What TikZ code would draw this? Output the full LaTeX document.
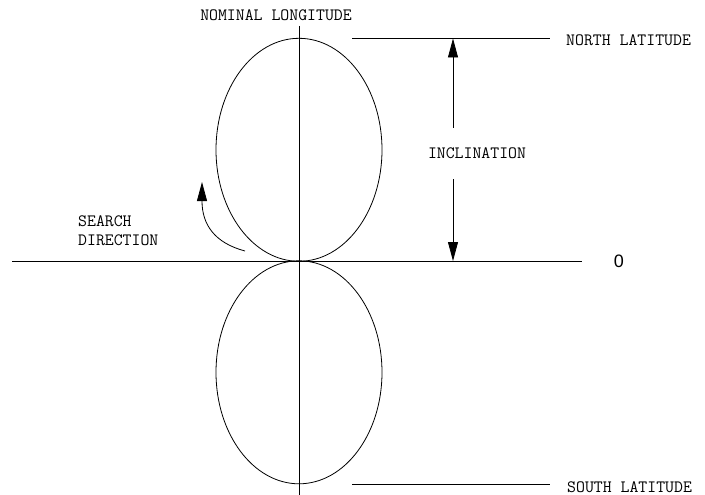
\documentclass[tikz,border=0pt]{standalone}
\usepackage{fontspec}
\setmainfont{Liberation Sans}
\usetikzlibrary{shapes.geometric,arrows.meta}
\begin{document}
\begin{tikzpicture}[x=1pt,y=-1pt,
  thinline/.style={line width=0.8pt},
  lobe/.style={ellipse,draw,line width=0.8pt,inner sep=0pt,minimum width=166pt,minimum height=223pt},
  lbl/.style={font=\ttfamily\fontsize{17.3}{19}\selectfont,inner sep=0pt,align=left},
  headarrow/.style={line width=0.8pt,-{Triangle[length=19pt,width=10pt]}}]
\useasboundingbox (0,0) rectangle (705,495);
% axes
\coordinate (vtop) at (299,26);
\coordinate (vbot) at (299,495);
\coordinate (hl) at (12,261);
\coordinate (hr) at (582,261);
\draw[thinline] (vtop) -- (vbot);
\draw[thinline] (hl) -- (hr);
% lobes
\node[lobe] (upper) at (299,149.8) {};
\node[lobe] (lower) at (299,372.3) {};
% latitude lines
\coordinate (nl) at (352,38.5);
\coordinate (nr) at (550,38.5);
\coordinate (sl) at (352,484);
\coordinate (sr) at (550,484);
\draw[thinline] (nl) -- (nr);
\draw[thinline] (sl) -- (sr);
% labels
\node[lbl] (nomlon) at (276,15) {NOMINAL LONGITUDE};
\node[lbl,anchor=west] (north) at (566,40) {NORTH LATITUDE};
\node[lbl,anchor=west] (south) at (567,487) {SOUTH LATITUDE};
\node[lbl] (incl) at (477,153) {INCLINATION};
\node[lbl,anchor=west] (search) at (78,230.5) {SEARCH\\DIRECTION};
\node[font=\fontsize{18}{20}\selectfont,inner sep=0pt] (zero) at (619,261) {0};
% inclination arrows
\coordinate (upstart) at (453,128);
\coordinate (uptip) at (453,38.5);
\coordinate (dnstart) at (453,179);
\coordinate (dntip) at (453,261);
\draw[headarrow] (upstart) -- (uptip);
\draw[headarrow] (dnstart) -- (dntip);
% search direction arrow
\coordinate (sstart) at (245,251);
\coordinate (stip) at (202,182);
\draw[headarrow] (sstart) .. controls (215,243) and (202,225) .. (stip);
\end{tikzpicture}
\end{document}
